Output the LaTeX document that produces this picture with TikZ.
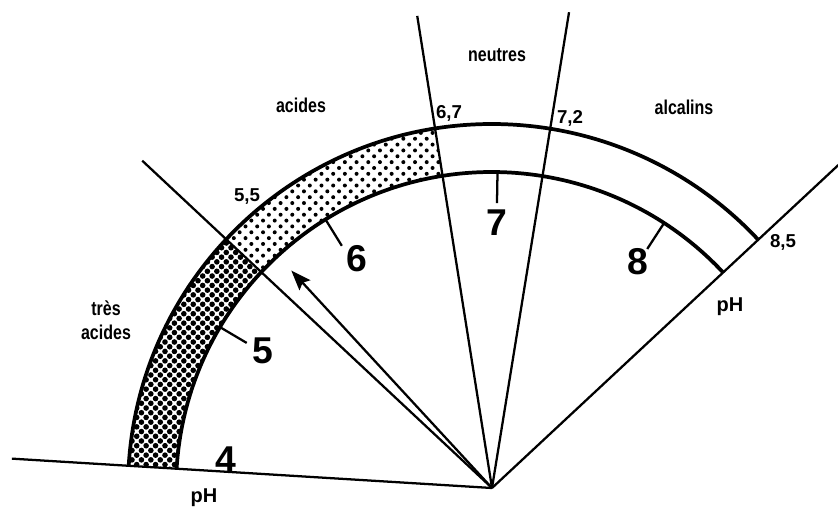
\documentclass[tikz,border=0pt]{standalone}
\usepackage{fontspec}
\setmainfont{Liberation Sans}[FakeStretch=0.8]
\newfontfamily\digitfont{Liberation Sans}
\usepackage{tikz}
\usetikzlibrary{patterns.meta,arrows.meta}

\begin{document}
\begin{tikzpicture}[x=0.75pt,y=0.75pt,yscale=-1,xscale=1,
    ray/.style={line width=1.7pt},
    rim/.style={line width=2.8pt},
    tick/.style={line width=1.7pt},
    darkdots/.style={pattern={Dots[radius=2.1pt,distance=5pt,angle=45]}},
    lightdots/.style={pattern={Dots[radius=1.5pt,distance=6.2pt,angle=45]}},
    bignum/.style={inner sep=0.75pt,font=\digitfont\fontsize{28}{28}\selectfont\bfseries},
    numtxt/.style={inner sep=0.75pt,font=\digitfont\fontsize{14}{16}\selectfont\bfseries},
    wordtxt/.style={inner sep=0.75pt,align=center,font=\fontsize{15}{18}\selectfont\bfseries}]
\useasboundingbox (0,0) rectangle (838,507);
\coordinate (O) at (492,488);

%Shape: Arc (dark band)
\path [darkdots] (O) ++(-176.5:316) arc [start angle=-176.5, end angle=-136.9, radius=316] -- ++(-136.9:48) arc [start angle=-136.9, end angle=-176.5, radius=364] -- cycle ;
%Shape: Arc (light band)
\path [lightdots] (O) ++(-136.9:316) arc [start angle=-136.9, end angle=-99, radius=316] -- ++(-99:48) arc [start angle=-99, end angle=-136.9, radius=364] -- cycle ;

%Shape: Arc
\draw [rim] (O) ++(-176.5:364) arc [start angle=-176.5, end angle=-43, radius=364] ;
%Shape: Arc
\draw [rim] (O) ++(-176.5:316) arc [start angle=-176.5, end angle=-43, radius=316] ;

%Straight Lines
\draw [ray] (O) -- ++(-176.5:481) ;
\draw [ray] (O) -- ++(-136.9:479) ;
\draw [ray] (O) -- ++(-99:478) ;
\draw [ray] (O) -- ++(-80.8:482) ;
\draw [ray] (O) -- ++(-43:482) ;
%Straight Lines (arrow)
\draw [ray, -{Stealth[length=15pt, width=11pt, inset=2.5pt]}] (O) -- ++(-132.7:296) ;

%Straight Lines (ticks)
\draw [tick] (O) ++(-149.4:285) -- ++(-149.4:31) ;
\draw [tick] (O) ++(-121.8:285) -- ++(-121.8:31) ;
\draw [tick] (O) ++(-89:285) -- ++(-89:31) ;
\draw [tick] (O) ++(-57:285) -- ++(-57:31) ;

% Text Node
\draw (226,460) node (n4) [bignum] {4};
% Text Node
\draw (263,351) node (n5) [bignum] {5};
% Text Node
\draw (357,259) node (n6) [bignum] {6};
% Text Node
\draw (497,223) node (n7) [bignum] {7};
% Text Node
\draw (638,262) node (n8) [bignum] {8};
% Text Node
\draw (247,197) node (v55) [numtxt] {5,5};
% Text Node
\draw (449,113) node (v67) [numtxt] {6,7};
% Text Node
\draw (570,118) node (v72) [numtxt] {7,2};
% Text Node
\draw (783,242) node (v85) [numtxt] {8,5};
% Text Node
\draw (204,498) node (phbase) [numtxt, font=\digitfont\fontsize{15}{16}\selectfont\bfseries] {pH};
% Text Node
\draw (730,307) node (phright) [numtxt, font=\digitfont\fontsize{15}{16}\selectfont\bfseries] {pH};
% Text Node
\draw (106,320) node (tresacides) [wordtxt] {très\\acides};
% Text Node
\draw (301,105) node (acides) [wordtxt] {acides};
% Text Node
\draw (497,55) node (neutres) [wordtxt] {neutres};
% Text Node
\draw (684,107) node (alcalins) [wordtxt] {alcalins};
\end{tikzpicture}
\end{document}
